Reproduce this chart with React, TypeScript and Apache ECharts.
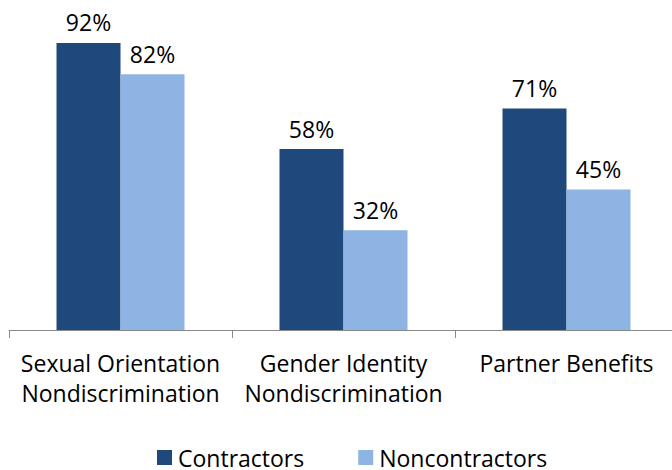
import React, { useEffect, useRef } from "react";
import * as echarts from "echarts";

const categories = [
  "Sexual Orientation\nNondiscrimination",
  "Gender Identity\nNondiscrimination",
  "Partner Benefits",
];
const seriesNames = ["Contractors", "Noncontractors"];
const contractors = [92, 58, 71];
const noncontractors = [82, 32, 45];

const FONT = "'Open Sans', sans-serif";

export default function App() {
  const ref = useRef<HTMLDivElement>(null);
  useEffect(() => {
    if (!ref.current) return;
    const chart = echarts.init(ref.current, null, { renderer: "svg" });
    const label = {
      show: true,
      position: "top",
      distance: 9,
      formatter: "{c}%",
      color: "#000",
      fontFamily: FONT,
      fontSize: 23,
    };
    chart.setOption({
      animation: false,
      textStyle: { fontFamily: FONT },
      grid: {
        left: 9,
        right: -6,
        top: 18,
        bottom: 140,
        containLabel: false,
        outerBoundsMode: "none",
      },
      legend: {
        data: seriesNames,
        left: 157,
        top: 446,
        padding: 0,
        itemWidth: 15,
        itemHeight: 15,
        itemGap: 54,
        icon: "rect",
        textStyle: {
          color: "#000",
          fontSize: 23,
          lineHeight: 22,
          fontFamily: FONT,
          padding: [0, 0, 0, 1],
        },
      },
      xAxis: {
        type: "category",
        data: categories,
        boundaryGap: true,
        axisLine: { lineStyle: { color: "#898989", width: 1 } },
        axisTick: { show: true, length: 8, lineStyle: { color: "#898989" } },
        axisLabel: {
          interval: 0,
          margin: 18,
          color: "#000",
          fontSize: 23,
          lineHeight: 30,
          fontFamily: FONT,
        },
      },
      yAxis: {
        type: "value",
        min: 0,
        max: 100,
        show: false,
        splitLine: { show: false },
      },
      series: [
        {
          name: seriesNames[0],
          type: "bar",
          data: contractors,
          barWidth: 64,
          barGap: "0%",
          itemStyle: { color: "#1F497D" },
          label,
        },
        {
          name: seriesNames[1],
          type: "bar",
          data: noncontractors,
          barWidth: 64,
          barGap: "0%",
          itemStyle: { color: "#8EB4E3" },
          label,
        },
      ],
    });
    return () => chart.dispose();
  }, []);
  return (
    <div
      ref={ref}
      style={{ position: "absolute", left: 0, top: 0, width: 672, height: 470 }}
    />
  );
}
